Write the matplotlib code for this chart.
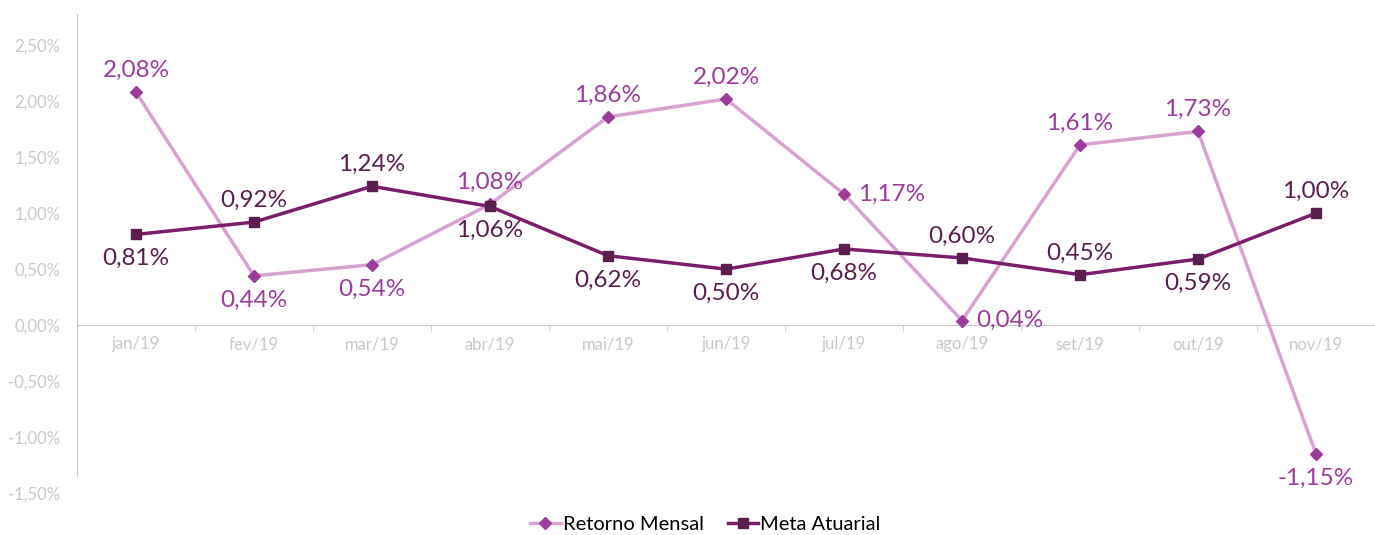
import matplotlib.pyplot as plt
from matplotlib.ticker import FuncFormatter

plt.rcParams['font.family'] = ['Lato', 'DejaVu Sans']

meses = ['jan/19', 'fev/19', 'mar/19', 'abr/19', 'mai/19', 'jun/19',
         'jul/19', 'ago/19', 'set/19', 'out/19', 'nov/19']
retorno = [2.08, 0.44, 0.54, 1.08, 1.86, 2.02, 1.17, 0.04, 1.61, 1.73, -1.15]
meta = [0.81, 0.92, 1.24, 1.06, 0.62, 0.50, 0.68, 0.60, 0.45, 0.59, 1.00]
# label placement: a=above, b=below, r=right
pos_ret = ['a', 'b', 'b', 'a', 'a', 'a', 'r', 'r', 'a', 'a', 'b']
pos_meta = ['b', 'a', 'a', 'b', 'b', 'b', 'b', 'a', 'a', 'b', 'a']

c_ret_line = '#D8A3D0'
c_ret_mark = '#9C3C9B'
c_meta_line = '#7A1E6C'
c_meta_mark = '#5A1F4F'
gray = '#C9C9C9'

fig = plt.figure(figsize=(13.75, 5.35), dpi=100)
ax = fig.add_axes([0.056, 0.0785, 0.944, 0.8955])

x = list(range(len(meses)))
ax.plot(x, retorno, color=c_ret_line, lw=2.5, marker='D', ms=6.5,
        mfc=c_ret_mark, mec=c_ret_mark, label='Retorno Mensal', zorder=3)
ax.plot(x, meta, color=c_meta_line, lw=2.5, marker='s', ms=7,
        mfc=c_meta_mark, mec=c_meta_mark, label='Meta Atuarial', zorder=3)

def fmt(v):
    return f'{v:.2f}%'.replace('.', ',')

def label(xs, ys, poss, color):
    for xi, yi, p in zip(xs, ys, poss):
        if p == 'a':
            ax.annotate(fmt(yi), (xi, yi), xytext=(0, 8), textcoords='offset points',
                        ha='center', va='bottom', fontsize=17.5, color=color)
        elif p == 'b':
            ax.annotate(fmt(yi), (xi, yi), xytext=(0, -10), textcoords='offset points',
                        ha='center', va='top', fontsize=17.5, color=color)
        else:
            ax.annotate(fmt(yi), (xi, yi), xytext=(10, 0), textcoords='offset points',
                        ha='left', va='center', fontsize=17.5, color=color)

label(x, retorno, pos_ret, c_ret_mark)
label(x, meta, pos_meta, c_meta_mark)

ax.set_xlim(-0.5, 10.5)
ax.set_ylim(-1.5, 2.78)
ax.set_yticks([-1.5, -1.0, -0.5, 0, 0.5, 1.0, 1.5, 2.0, 2.5])
ax.yaxis.set_major_formatter(FuncFormatter(lambda v, _: fmt(v)))
ax.tick_params(axis='y', length=0, labelsize=12, labelcolor=gray, pad=12)

ax.set_xticks(x)
ax.set_xticklabels(meses)
ax.set_xticks([i + 0.5 for i in range(-1, 11)], minor=True)
ax.tick_params(axis='x', which='major', length=0, labelsize=12, labelcolor=gray, pad=8)
ax.tick_params(axis='x', which='minor', length=4, color=gray, direction='out')

for s in ['top', 'right']:
    ax.spines[s].set_visible(False)
ax.spines['bottom'].set_position(('data', 0))
ax.spines['bottom'].set_color(gray)
ax.spines['left'].set_color(gray)
ax.spines['left'].set_bounds(-1.35, 2.78)

fig.legend(loc='lower center', bbox_to_anchor=(0.513, -0.03), ncol=2, frameon=False,
           fontsize=14.5, handlelength=1.5, handletextpad=0.1, columnspacing=1.2)

fig.savefig('out.png', dpi=100)
